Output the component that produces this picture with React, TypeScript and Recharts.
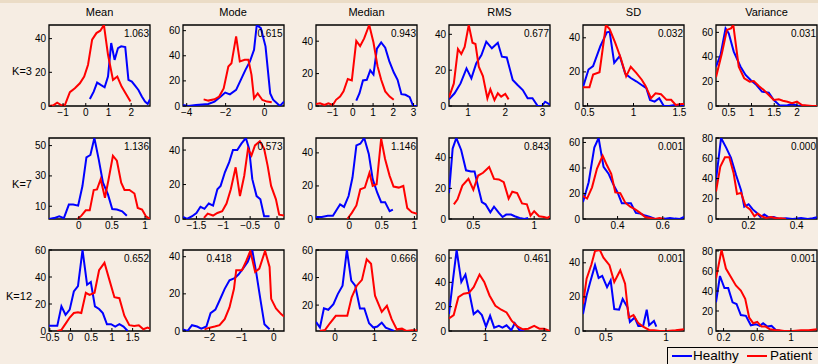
import React from 'react';
import { LineChart, Line, XAxis, YAxis, ReferenceArea } from 'recharts';

type Pt = [number, number];

// ---------- Column titles and row labels ----------
const columnTitles = ['Mean', 'Mode', 'Median', 'RMS', 'SD', 'Variance'];
const rowLabels = ['K=3', 'K=7', 'K=12'];

// ---------- K = 3 ----------
const meanK3Healthy: Pt[] = [[0.18,4.2],[0.35,8.5],[0.5,13.9],[0.66,12.5],[0.83,11.1],[0.98,17.5],[1.12,37.4],[1.27,27.4],[1.42,34.4],[1.56,35.4],[1.74,35],[1.88,15.5],[2.03,14.5],[2.18,11.9],[2.32,9.5],[2.47,5.6],[2.61,2.6],[2.73,1.2],[2.83,4]];
const meanK3Patient: Pt[] = [[-1.62,0],[-1.43,0.4],[-1.26,2],[-1.07,0.4],[-0.92,0.6],[-0.7,8.2],[-0.48,10.5],[-0.26,13.5],[-0.07,17.5],[0.1,24.5],[0.28,39.4],[0.47,43.3],[0.64,44.7],[0.8,48.1],[0.98,30.4],[1.2,15.5],[1.39,17.5],[1.58,11.5],[1.78,7],[1.97,2.6]];
const modeK3Healthy: Pt[] = [[-4.19,0.8],[-3.92,0],[-3.52,0.8],[-2.89,1.6],[-2.57,3.5],[-2.25,7.5],[-2.02,10.7],[-1.78,9.3],[-1.46,12.8],[-1.22,20.8],[-0.98,28.8],[-0.75,35.5],[-0.54,44.8],[-0.4,64.5],[-0.19,62],[0.05,47.5],[0.29,10],[0.44,5],[0.79,0],[1.0,3.5]];
const modeK3Patient: Pt[] = [[-3.13,5.3],[-2.89,4.3],[-2.57,5.3],[-2.33,7.5],[-2.1,14],[-1.86,31.5],[-1.7,34],[-1.46,55.5],[-1.27,35.5],[-1.02,36.8],[-0.83,36.8],[-0.67,24.8],[-0.54,6.1],[-0.35,10],[-0.11,4.8],[0.13,3.5],[0.37,2.9]];
const medianK3Healthy: Pt[] = [[0.17,3.3],[0.33,7.9],[0.5,15.8],[0.69,16.2],[0.86,22],[1.02,19.4],[1.19,35.4],[1.4,39.2],[1.6,36],[1.8,27.7],[2.02,20.8],[2.21,16.2],[2.4,7.3],[2.6,6.9],[2.81,5.4],[2.98,0],[3.17,0]];
const medianK3Patient: Pt[] = [[-1.82,1.2],[-1.62,1.7],[-1.4,0.6],[-1.21,1.7],[-0.99,0.6],[-0.83,3.8],[-0.63,5.8],[-0.46,9],[-0.25,16.7],[-0.05,15.8],[0.17,40.2],[0.36,37],[0.56,41.7],[0.81,50],[1.02,39.2],[1.22,24.6],[1.4,16.2],[1.6,9],[1.82,5.8],[2.02,3.8]];
const rmsK3Healthy: Pt[] = [[0.49,3.7],[0.64,7.1],[0.8,12.6],[0.96,21],[1.09,15.4],[1.22,23.8],[1.36,28.4],[1.49,35.9],[1.64,32.2],[1.8,35.3],[1.91,27.5],[2.04,27.1],[2.2,14.5],[2.33,11.7],[2.47,8.9],[2.6,4.3],[2.73,4.3],[2.87,0],[2.98,0],[3.07,2.4],[3.2,0.8]];
const rmsK3Patient: Pt[] = [[0.49,4.8],[0.62,12.6],[0.73,31.8],[0.82,29],[0.91,33],[1.02,45.2],[1.12,35.3],[1.2,34.6],[1.29,21.9],[1.4,16.7],[1.52,4.3],[1.6,9.3],[1.71,3.3],[1.8,7.1],[1.89,5.2],[2.0,6.7],[2.09,3.7]];
const sdK3Healthy: Pt[] = [[0.45,11],[0.51,21.4],[0.56,23.4],[0.64,35.2],[0.71,43.2],[0.74,43.6],[0.79,25.3],[0.85,29.3],[0.91,19],[0.97,16.4],[1.03,14.5],[1.1,11.9],[1.14,10.5],[1.18,3.6],[1.23,2.6],[1.28,4.6],[1.33,0],[1.39,0],[1.45,0.6],[1.5,0],[1.55,0]];
const sdK3Patient: Pt[] = [[0.45,11],[0.52,11],[0.56,18.4],[0.63,19.8],[0.7,47.5],[0.74,45.1],[0.8,37.2],[0.86,28.3],[0.92,17.4],[0.97,23],[1.03,19.4],[1.09,15.4],[1.13,11.9],[1.19,4.6],[1.24,7.5],[1.3,6.9],[1.36,3.6],[1.41,3.6],[1.46,0.6],[1.52,1.2],[1.55,1.2]];
const varK3Healthy: Pt[] = [[0.22,32],[0.32,41.6],[0.43,63.3],[0.5,59.2],[0.61,44.3],[0.76,32],[0.87,25.3],[0.98,21.2],[1.11,17.1],[1.23,11.7],[1.38,10.9],[1.49,4.9],[1.62,0.5],[1.78,0.5],[1.89,1.6],[2.0,0.5],[2.22,0],[2.44,0]];
const varK3Patient: Pt[] = [[0.22,23.4],[0.35,42.9],[0.46,62],[0.55,63.3],[0.6,66],[0.72,32],[0.84,22.6],[0.96,19.8],[1.05,20.4],[1.16,16.3],[1.27,13],[1.38,9],[1.49,4.9],[1.6,5.4],[1.69,4.3],[1.79,3.5],[1.89,2.2],[2.0,3.5],[2.11,0.8],[2.22,0.5],[2.33,0],[2.44,0]];

// ---------- K = 7 ----------
const meanK7Healthy: Pt[] = [[-0.45,1.6],[-0.375,2.2],[-0.295,3.3],[-0.225,2.2],[-0.15,11.1],[-0.085,11.1],[-0.01,10.4],[0.055,23.3],[0.115,42.2],[0.175,43.8],[0.235,55],[0.3,41.1],[0.365,25.6],[0.44,17.8],[0.505,8.2],[0.575,7.8],[0.655,6.7],[0.725,3.8]];
const meanK7Patient: Pt[] = [[-0.02,1.6],[0.04,3.8],[0.105,7.3],[0.165,7.3],[0.225,20.7],[0.275,21.1],[0.33,27.8],[0.395,15.6],[0.45,27.8],[0.515,43.3],[0.575,40],[0.64,25.6],[0.69,20.7],[0.765,20.7],[0.84,18.4],[0.89,8.9],[0.955,7.8],[1.015,3.3],[1.075,1.6]];
const modeK7Healthy: Pt[] = [[-1.75,1.2],[-1.675,0],[-1.58,1.6],[-1.5,3.5],[-1.425,7.1],[-1.35,5.9],[-1.27,9],[-1.19,7.8],[-1.11,17.3],[-1.05,19.2],[-0.97,27.1],[-0.89,33],[-0.82,40],[-0.74,40],[-0.66,43.9],[-0.58,47],[-0.52,40.8],[-0.46,23.1],[-0.38,13.3],[-0.31,11.4],[-0.24,1.6],[-0.14,1.6]];
const modeK7Patient: Pt[] = [[-1.36,0.6],[-1.29,3.1],[-1.19,2],[-1.11,3.5],[-1.02,4.5],[-0.94,9],[-0.86,17.3],[-0.77,30],[-0.69,13.3],[-0.61,25.1],[-0.54,40.8],[-0.475,36.9],[-0.41,42.7],[-0.32,45.1],[-0.24,40.8],[-0.175,31],[-0.11,19.2],[-0.02,11.4],[0.04,2.5],[0.13,2]];
const medianK7Healthy: Pt[] = [[-0.51,1.2],[-0.42,1.2],[-0.33,2],[-0.25,2],[-0.19,5.7],[-0.14,8.8],[-0.08,7.3],[-0.01,13.9],[0.05,25.1],[0.11,44.5],[0.17,45.5],[0.23,49],[0.3,39.4],[0.36,24.1],[0.43,15.9],[0.49,10.2],[0.55,10.2],[0.62,4.7],[0.67,5.7]];
const medianK7Patient: Pt[] = [[-0.03,0],[0.04,3.7],[0.11,8.2],[0.17,18],[0.24,19],[0.31,27.8],[0.36,20],[0.42,21],[0.49,48.6],[0.55,36.3],[0.62,26.1],[0.68,19.6],[0.76,19],[0.83,20],[0.89,6.7],[0.96,4.1],[1.04,3.1]];
const rmsK7Healthy: Pt[] = [[0.3,16.9],[0.33,46],[0.36,52.9],[0.4,45.1],[0.44,31.8],[0.48,31.1],[0.51,31.1],[0.54,20.7],[0.57,11.1],[0.6,9.6],[0.64,4.4],[0.67,8],[0.71,4],[0.74,1.3],[0.77,2.9],[0.81,2.9],[0.84,1.8],[0.88,0.7],[0.92,0],[0.95,0.7]];
const rmsK7Patient: Pt[] = [[0.34,9.6],[0.37,12.9],[0.41,21.8],[0.46,26.2],[0.5,19.1],[0.54,28.4],[0.58,30.2],[0.63,34],[0.67,26.2],[0.71,25.8],[0.75,24],[0.79,13.3],[0.82,17.8],[0.86,16.9],[0.9,10.2],[0.94,9.6],[0.97,2.2],[1.0,5.1],[1.04,1.8],[1.08,1.3],[1.11,0.7],[1.13,1.8]];
const sdK7Healthy: Pt[] = [[0.247,13.3],[0.272,28.8],[0.297,56],[0.316,63.5],[0.338,40.8],[0.36,35.5],[0.38,27.5],[0.4,20.8],[0.419,12.3],[0.438,12.3],[0.459,12.3],[0.481,4.8],[0.5,4.3],[0.522,2.7],[0.544,1.6],[0.566,0],[0.588,0],[0.61,0.3],[0.632,0.8],[0.654,0.3],[0.676,0],[0.694,1.6]];
const sdK7Patient: Pt[] = [[0.247,18.1],[0.265,16],[0.287,24.8],[0.309,39.5],[0.334,49.6],[0.353,42.1],[0.372,35.5],[0.39,20.8],[0.412,20.3],[0.434,12.8],[0.456,9.6],[0.478,7.5],[0.5,4.8],[0.522,1.6],[0.544,0.8],[0.566,0],[0.585,0.8],[0.606,0]];
const varK7Healthy: Pt[] = [[0.066,38.3],[0.087,80],[0.108,70.5],[0.128,60.3],[0.149,43.4],[0.17,28.1],[0.183,12.2],[0.201,14.6],[0.218,9.5],[0.234,6.1],[0.25,2],[0.266,4.4],[0.284,1.7],[0.305,2],[0.328,0],[0.356,0.7],[0.383,0],[0.418,1],[0.446,0],[0.466,0.7],[0.484,1.7]];
const varK7Patient: Pt[] = [[0.066,27.1],[0.084,51.9],[0.103,61],[0.121,61],[0.139,45.1],[0.153,24.7],[0.17,25.8],[0.188,12.9],[0.207,9.5],[0.225,2.7],[0.239,5.4],[0.255,2.7],[0.273,1],[0.294,2],[0.314,0.7],[0.335,0.7],[0.356,0]];

// ---------- K = 12 ----------
const meanK12Healthy: Pt[] = [[-0.52,3.8],[-0.32,3.8],[-0.22,18.3],[-0.12,12],[-0.02,15.8],[0.08,29.3],[0.18,33.3],[0.29,60],[0.4,34.3],[0.49,36.3],[0.59,18.3],[0.69,16.3],[0.78,13.3],[0.88,5],[0.98,5],[1.08,3.3],[1.18,5],[1.28,3.3],[1.38,0]];
const meanK12Patient: Pt[] = [[-0.32,0],[-0.22,0.8],[-0.11,5.8],[-0.02,10],[0.08,13.3],[0.18,13.8],[0.26,13.3],[0.37,28.3],[0.46,26.8],[0.58,28.3],[0.69,45],[0.82,50.5],[0.93,38.8],[1.06,25],[1.18,24.3],[1.3,11.3],[1.42,4.3],[1.54,3.8],[1.65,4.3],[1.76,1.3],[1.86,2.5],[1.92,1.8]];
const modeK12Healthy: Pt[] = [[-2.83,0.9],[-2.69,0],[-2.55,3.1],[-2.39,2.4],[-2.26,1.3],[-2.1,2.4],[-1.97,9.6],[-1.82,11.5],[-1.69,16.4],[-1.53,22.7],[-1.38,27.3],[-1.22,28.5],[-1.1,30.4],[-0.96,33.6],[-0.81,37.3],[-0.67,43.6],[-0.55,31.8],[-0.41,16.4],[-0.29,3.6],[-0.13,0.9]];
const modeK12Patient: Pt[] = [[-2.16,0.9],[-2.0,1.8],[-1.84,2.4],[-1.69,3.1],[-1.53,6.4],[-1.38,12.7],[-1.24,22.7],[-1.17,32.7],[-0.99,32.7],[-0.86,37.6],[-0.73,43.1],[-0.58,31.8],[-0.45,33.6],[-0.27,43.1],[-0.13,34.5],[-0.08,17.3],[0.07,12.2],[0.23,9.1],[0.32,7.8]];
const medianK12Healthy: Pt[] = [[-0.48,7.8],[-0.38,3.7],[-0.28,17.6],[-0.17,16.6],[-0.04,20.7],[0.07,28],[0.19,34.1],[0.3,60],[0.41,37.8],[0.51,34.1],[0.63,17.6],[0.74,17.6],[0.86,6.8],[0.97,3.7],[1.07,4.4],[1.18,7.3],[1.28,3.7],[1.39,2.4],[1.49,1.2]];
const medianK12Patient: Pt[] = [[-0.38,1.2],[-0.25,2],[-0.13,6.8],[0.02,12.2],[0.17,12.2],[0.31,12.2],[0.42,25.6],[0.55,34.1],[0.68,38.3],[0.8,53.2],[0.91,50],[1.01,26.8],[1.18,15.1],[1.31,19.5],[1.43,9.8],[1.56,2.4],[1.69,2.9],[1.8,1.2],[1.94,1.7],[2.07,1.7]];
const rmsK12Healthy: Pt[] = [[0.38,13.9],[0.45,43],[0.51,66.6],[0.59,40.3],[0.66,46.4],[0.73,30.6],[0.8,13.9],[0.87,16.7],[0.94,13.1],[1.01,3.6],[1.08,12.5],[1.15,2.8],[1.23,4.2],[1.29,2.8],[1.36,4.7],[1.44,0.6],[1.5,6.4],[1.58,0.8],[1.66,0]];
const rmsK12Patient: Pt[] = [[0.38,10.3],[0.46,13.1],[0.54,27.8],[0.63,30.6],[0.72,31.4],[0.8,36.1],[0.9,46.4],[0.98,40.3],[1.07,29.2],[1.17,20.8],[1.27,17.5],[1.36,15.3],[1.45,8.3],[1.55,3.6],[1.64,1.4],[1.73,1.9],[1.83,4.2],[1.92,1.9],[2.0,1.9],[2.1,0]];
const sdK12Healthy: Pt[] = [[0.31,9.9],[0.34,20.8],[0.37,28.7],[0.41,38.6],[0.44,31.1],[0.47,32.3],[0.51,25.7],[0.54,29.7],[0.57,12.9],[0.61,12.5],[0.64,18.8],[0.68,13.9],[0.7,5.3],[0.74,7.9],[0.77,3],[0.81,3],[0.84,12.5],[0.86,3.4],[0.9,5.9],[0.92,2.6]];
const sdK12Patient: Pt[] = [[0.31,15.8],[0.34,30.7],[0.38,39],[0.41,46.9],[0.45,47.5],[0.48,43],[0.53,38.6],[0.57,28.7],[0.62,35.6],[0.66,27.7],[0.69,7.9],[0.73,9.3],[0.77,4.6],[0.81,2.6],[0.86,0.6],[0.9,0.4],[0.95,0],[1.01,0],[1.08,0.4],[1.15,1]];
const varK12Healthy: Pt[] = [[0.11,28.7],[0.157,55],[0.21,42.9],[0.255,42.9],[0.307,28.7],[0.354,27],[0.405,15.9],[0.465,15.2],[0.524,5.7],[0.583,6.8],[0.63,5.1],[0.67,7.8],[0.72,4.4],[0.77,5.1],[0.82,1],[0.88,0]];
const varK12Patient: Pt[] = [[0.11,52.4],[0.176,81],[0.228,62.5],[0.287,54],[0.346,45.6],[0.405,40.5],[0.457,32.1],[0.504,13.5],[0.552,7.8],[0.6,9.1],[0.65,4.4],[0.7,4.4],[0.75,1.7],[0.81,1],[0.86,0.7],[0.92,0],[1.02,0],[1.12,0.7],[1.21,0.7],[1.31,1.7]];

// ---------- Tick labels ----------
const xTicksK3 = [[-1,0,1,2],[-4,-2,0],[-1,0,1,2,3],[1,2,3],[0.5,1,1.5],[0.5,1,1.5,2]];
const yTicksK3 = [[0,20,40],[0,20,40,60],[0,20,40],[0,20,40],[0,20,40],[0,20,40,60]];
const xTicksK7 = [[0,0.5,1],[-1.5,-1,-0.5,0],[0,0.5,1],[0.5,1],[0.4,0.6],[0.2,0.4]];
const yTicksK7 = [[10,30,50],[0,20,40],[0,20,40],[0,20,40],[0,20,40,60],[0,20,40,60,80]];
const xTicksK12 = [[-0.5,0,0.5,1,1.5],[-2,-1,0],[0,1,2],[1,2],[0.5,1],[0.2,0.6,1]];
const yTicksK12 = [[0,20,40,60],[0,20,40],[20,40,60],[0,20,40,60],[0,20,40],[0,20,40,60,80]];

// ---------- Per-panel statistics shown in the corner ----------
const notesK3 = ['1.063','0.615','0.943','0.677','0.032','0.031'];
const notesK7 = ['1.136','0.573','1.146','0.843','0.001','0.000'];
const notesK12 = ['0.652','0.418','0.666','0.461','0.001','0.001'];

const rows = [
  { healthy: [meanK3Healthy, modeK3Healthy, medianK3Healthy, rmsK3Healthy, sdK3Healthy, varK3Healthy],
    patient: [meanK3Patient, modeK3Patient, medianK3Patient, rmsK3Patient, sdK3Patient, varK3Patient],
    xTicks: xTicksK3, yTicks: yTicksK3, notes: notesK3 },
  { healthy: [meanK7Healthy, modeK7Healthy, medianK7Healthy, rmsK7Healthy, sdK7Healthy, varK7Healthy],
    patient: [meanK7Patient, modeK7Patient, medianK7Patient, rmsK7Patient, sdK7Patient, varK7Patient],
    xTicks: xTicksK7, yTicks: yTicksK7, notes: notesK7 },
  { healthy: [meanK12Healthy, modeK12Healthy, medianK12Healthy, rmsK12Healthy, sdK12Healthy, varK12Healthy],
    patient: [meanK12Patient, modeK12Patient, medianK12Patient, rmsK12Patient, sdK12Patient, varK12Patient],
    xTicks: xTicksK12, yTicks: yTicksK12, notes: notesK12 },
];

// ---------- Layout ----------
const COL_LEFT = [49, 182.5, 316, 449, 583, 716];
const ROW_TOP = [25, 138, 250];
const PW = 101;
const PH = 81;
const ML = 40;
const MT = 5;
const MR = 5;
const MB = 20;
const FONT = '"Liberation Sans", Arial, Helvetica, sans-serif';
const BLUE = '#0000ff';
const RED = '#ff0000';
const BG = '#f6ede3';

const fmt = (v: number) => String(v).replace('-', '\u2212');

function Panel(props: { healthy: Pt[]; patient: Pt[]; xTicks: number[]; yTicks: number[]; left: number; top: number }) {
  const { healthy, patient, xTicks, yTicks, left, top } = props;
  const all = healthy.concat(patient);
  const xs = all.map((d) => d[0]);
  const ys = all.map((d) => d[1]);
  const xMin = Math.min(...xs);
  const xMax = Math.max(...xs);
  const yMin = Math.min(...ys);
  const yMax = Math.max(...ys);
  const hData = healthy.map(([x, y]) => ({ x, y }));
  const pData = patient.map(([x, y]) => ({ x, y }));
  const tickStyle = { fontSize: 10, fill: '#000', fontFamily: FONT };
  return (
    <div style={{ position: 'absolute', left: left - ML, top: top - MT }}>
      <LineChart width={PW + ML + MR} height={PH + MT + MB} margin={{ top: MT, right: MR, bottom: 0, left: 0 }}>
        <XAxis
          dataKey="x"
          type="number"
          domain={[xMin, xMax]}
          ticks={xTicks}
          allowDataOverflow
          interval={0}
          height={MB}
          tickSize={-3}
          tickMargin={6}
          axisLine={false}
          tickLine={{ stroke: '#000' }}
          tick={tickStyle}
          tickFormatter={fmt}
        />
        <XAxis
          xAxisId="top"
          orientation="top"
          dataKey="x"
          type="number"
          domain={[xMin, xMax]}
          ticks={xTicks}
          allowDataOverflow
          interval={0}
          height={0}
          tickSize={-3}
          axisLine={false}
          tickLine={{ stroke: '#000' }}
          tick={false}
        />
        <YAxis
          type="number"
          domain={[yMin, yMax]}
          ticks={yTicks}
          allowDataOverflow
          interval={0}
          width={ML}
          tickSize={-3}
          tickMargin={6}
          axisLine={false}
          tickLine={{ stroke: '#000' }}
          tick={tickStyle}
          tickFormatter={fmt}
        />
        <YAxis
          yAxisId="right"
          orientation="right"
          type="number"
          domain={[yMin, yMax]}
          ticks={yTicks}
          allowDataOverflow
          interval={0}
          width={0}
          tickSize={-3}
          axisLine={false}
          tickLine={{ stroke: '#000' }}
          tick={false}
        />
        <ReferenceArea x1={xMin} x2={xMax} y1={yMin} y2={yMax} fill="none" fillOpacity={0} stroke="#000" strokeWidth={1.3} ifOverflow="visible" />
        <Line data={hData} dataKey="y" type="linear" stroke={BLUE} strokeWidth={2} dot={false} activeDot={false} isAnimationActive={false} />
        <Line data={pData} dataKey="y" type="linear" stroke={RED} strokeWidth={2} dot={false} activeDot={false} isAnimationActive={false} />
      </LineChart>
    </div>
  );
}

export default function App() {
  return (
    <div style={{ position: 'fixed', left: 0, top: 0, width: 818, height: 364, overflow: 'hidden', background: BG, fontFamily: FONT, color: '#000' }}>
      <div style={{ position: 'absolute', left: 0, top: 0, width: 818, height: 3, background: '#ebdcc6' }} />
      {columnTitles.map((t, c) => (
        <div key={t} style={{ position: 'absolute', left: COL_LEFT[c], top: 6, width: PW, textAlign: 'center', fontSize: 11, lineHeight: '12px' }}>{t}</div>
      ))}
      {rowLabels.map((t, r) => (
        <div key={t} style={{ position: 'absolute', left: 0, top: ROW_TOP[r] + 40, width: 32, textAlign: 'right', fontSize: 11, lineHeight: '12px' }}>{t}</div>
      ))}
      {rows.map((row, r) =>
        COL_LEFT.map((cl, c) => (
          <Panel
            key={`${r}-${c}`}
            healthy={row.healthy[c]}
            patient={row.patient[c]}
            xTicks={row.xTicks[c]}
            yTicks={row.yTicks[c]}
            left={cl}
            top={ROW_TOP[r]}
          />
        ))
      )}
      {rows.map((row, r) =>
        COL_LEFT.map((cl, c) => {
          const leftNote = r === 2 && c === 1;
          return (
            <div
              key={`n-${r}-${c}`}
              style={leftNote
                ? { position: 'absolute', left: cl + 24, top: ROW_TOP[r] + 3, fontSize: 10, lineHeight: '11px' }
                : { position: 'absolute', left: cl, top: ROW_TOP[r] + 3, width: PW - 1, textAlign: 'right', fontSize: 10, lineHeight: '11px' }}
            >
              {row.notes[c]}
            </div>
          );
        })
      )}
      <div style={{ position: 'absolute', left: 667, top: 347, width: 160, height: 30, border: '1.5px solid #000', background: BG }}>
        <div style={{ position: 'absolute', left: 4, top: 7, width: 20, height: 2, background: BLUE }} />
        <div style={{ position: 'absolute', left: 25, top: 0, fontSize: 13.5, lineHeight: '16px' }}>Healthy</div>
        <div style={{ position: 'absolute', left: 79, top: 7, width: 20, height: 2, background: RED }} />
        <div style={{ position: 'absolute', left: 102, top: 0, fontSize: 13.5, lineHeight: '16px' }}>Patient</div>
      </div>
    </div>
  );
}
